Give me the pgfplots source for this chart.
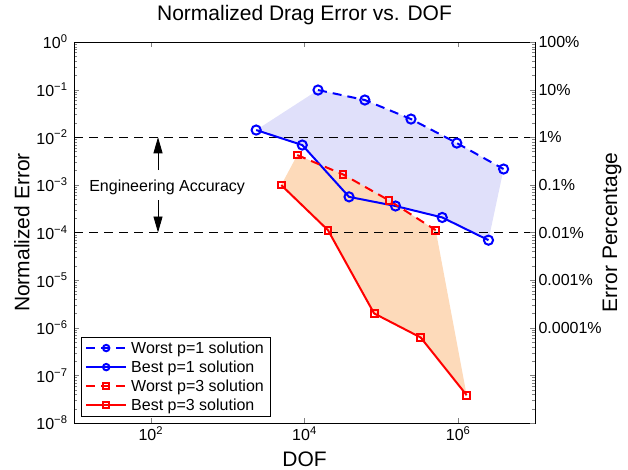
\documentclass[border=0pt]{standalone}
\usepackage{fontspec}
\setmainfont{Liberation Sans}
\usepackage{pgfplots}
\pgfplotsset{compat=1.18}
\usetikzlibrary{arrows.meta}
\definecolor{lav}{RGB}{224,224,250}
\definecolor{peach}{RGB}{253,218,186}
\newcommand{\sx}[1]{10\textsuperscript{#1}}
\begin{document}
\begin{tikzpicture}
\useasboundingbox (0bp,0bp) rectangle (628bp,470bp);
\begin{axis}[at={(74bp,47bp)}, anchor=south west, scale only axis, width=461bp, height=381bp,
 xmode=log, ymode=log, xmin=10, xmax=1e7, ymin=1e-8, ymax=1,
 xtick={1e2,1e4,1e6}, xticklabels={\sx{2},\sx{4},\sx{6}},
 ytick={1e-8,1e-7,1e-6,1e-5,1e-4,1e-3,1e-2,1e-1,1},
 yticklabels={\sx{−8},\sx{−7},\sx{−6},\sx{−5},\sx{−4},\sx{−3},\sx{−2},\sx{−1},\sx{0}},
 xminorticks=false, ytick pos=left, xtick pos=both,
 tick align=inside, major tick length=5bp, minor tick length=3bp,
 axis line style={line width=1bp},
 tick label style={font=\fontsize{16bp}{19bp}\selectfont},
 yticklabel style={xshift=-3bp},
 every axis title shift=0pt,
 title={Normalized Drag Error vs. DOF},
 title style={font=\fontsize{21bp}{25bp}\selectfont, at={(axis description cs:0.5,1.071)}, anchor=center},
 xlabel={DOF},
 xlabel style={font=\fontsize{21bp}{25bp}\selectfont, at={(axis description cs:0.5,-0.0945)}, anchor=center},
 ylabel={Normalized Error},
 ylabel style={font=\fontsize{21bp}{25bp}\selectfont, at={(axis description cs:-0.113,0.5)}, anchor=center},
 legend style={at={(0.0152,0.0184)}, anchor=south west, font=\fontsize{16bp}{19bp}\selectfont, draw=black, inner xsep=4bp, inner ysep=2bp, row sep=2bp, column sep=2bp, cells={anchor=west}},
 legend image code/.code={\draw[mark repeat=2,mark phase=2,#1,mark size=3.2bp] plot coordinates {(0bp,0bp) (20bp,0bp) (40bp,0bp)};},
]
% shaded bands
\addplot[fill=lav, draw=none, forget plot] coordinates {
 (1.5e4,0.098) (6.1e4,0.0605) (2.43e5,0.0241) (9.6e5,0.00755) (3.9e6,0.00215)
 (2.48e6,6.9e-5) (6.2e5,2.07e-4) (1.53e5,3.6e-4) (3.8e4,5.6e-4) (9350,0.00686) (2350,0.01417)};
\addplot[fill=peach, draw=none, forget plot] coordinates {
 (8050,4.23e-3) (3.17e4,1.66e-3) (1.26e5,4.72e-4) (5.1e5,1.12e-4)
 (1.29e6,3.84e-8) (3.25e5,6.25e-7) (8.05e4,2.0e-6) (2.02e4,1.12e-4) (4980,9.9e-4)};
% engineering accuracy bounds
\addplot[black, line width=0.9bp, dash pattern=on 9bp off 6bp, forget plot] coordinates {(10,1e-2) (1e7,1e-2)};
\addplot[black, line width=0.9bp, dash pattern=on 9bp off 6bp, forget plot] coordinates {(10,1e-4) (1e7,1e-4)};
\draw[-{Triangle[length=16bp,width=9bp]}, line width=0.9bp] (axis cs:124,2.05e-3) -- (axis cs:124,1e-2);
\draw[-{Triangle[length=16bp,width=9bp]}, line width=0.9bp] (axis cs:124,4.8e-4) -- (axis cs:124,1e-4);
\node[font=\fontsize{16bp}{19bp}\selectfont] at (axis cs:163,8.7e-4) {Engineering Accuracy};
% series
\addplot[blue, line width=2bp, dash pattern=on 9bp off 6bp, mark=o, mark size=4.6bp, mark options={solid}] coordinates {
 (1.5e4,0.098) (6.1e4,0.0605) (2.43e5,0.0241) (9.6e5,0.00755) (3.9e6,0.00215)};
\addlegendentry{Worst p=1 solution}
\addplot[blue, line width=2bp, mark=o, mark size=4.6bp, mark options={solid}] coordinates {
 (2350,0.01417) (9350,0.00686) (3.8e4,5.6e-4) (1.53e5,3.6e-4) (6.2e5,2.07e-4) (2.48e6,6.9e-5)};
\addlegendentry{Best p=1 solution}
\addplot[red, line width=2bp, dash pattern=on 9bp off 6bp, mark=square, mark size=3.4bp, mark options={solid}] coordinates {
 (8050,4.23e-3) (3.17e4,1.66e-3) (1.26e5,4.72e-4) (5.1e5,1.12e-4)};
\addlegendentry{Worst p=3 solution}
\addplot[red, line width=2bp, mark=square, mark size=3.4bp, mark options={solid}] coordinates {
 (4980,9.9e-4) (2.02e4,1.12e-4) (8.05e4,2.0e-6) (3.25e5,6.25e-7) (1.29e6,3.84e-8)};
\addlegendentry{Best p=3 solution}
\end{axis}
\begin{axis}[at={(74bp,47bp)}, anchor=south west, scale only axis, width=461bp, height=381bp,
 xmode=log, ymode=log, xmin=10, xmax=1e7, ymin=1e-8, ymax=1,
 axis x line=none, axis y line*=right, y axis line style={-, line width=1bp},
 tick align=inside, major tick length=5bp, minor tick length=3bp,
 ytick={1e-8,1e-7,1e-6,1e-5,1e-4,1e-3,1e-2,1e-1,1},
 yticklabels={,,0.0001\%,0.001\%,0.01\%,0.1\%,1\%,10\%,100\%},
 tick label style={font=\fontsize{16bp}{19bp}\selectfont},
 ylabel={Error Percentage},
 ylabel style={font=\fontsize{21bp}{25bp}\selectfont, at={(axis description cs:1.167,0.5)}, anchor=center, rotate=0},
]
\end{axis}
\end{tikzpicture}
\end{document}
